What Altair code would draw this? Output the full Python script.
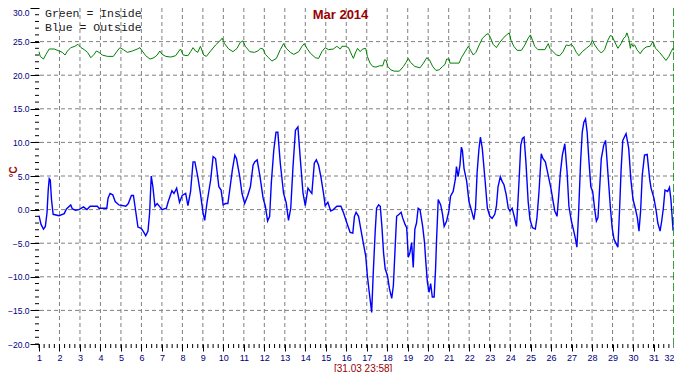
import altair as alt
import pandas as pd

# ---- data ----
blue_day = [1.00,1.10,1.22,1.31,1.39,1.45,1.50,1.55,1.61,1.69,1.98,2.23,2.34,2.55,2.63,2.79,2.95,3.17,3.34,3.50,3.85,3.93,4.31,4.37,4.47,4.60,4.72,4.90,5.24,5.36,5.51,5.61,5.70,5.83,5.99,6.12,6.21,6.32,6.40,6.48,6.56,6.66,6.77,6.90,7.01,7.22,7.31,7.49,7.59,7.72,7.86,7.99,8.16,8.27,8.40,8.52,8.61,8.75,8.88,9.01,9.09,9.20,9.38,9.50,9.62,9.78,9.89,9.99,10.10,10.22,10.31,10.44,10.56,10.64,10.80,10.91,11.04,11.19,11.32,11.45,11.53,11.65,11.78,11.94,12.05,12.16,12.26,12.34,12.46,12.57,12.66,12.78,12.94,13.07,13.18,13.29,13.40,13.52,13.64,13.76,13.89,14.00,14.13,14.24,14.32,14.44,14.54,14.65,14.76,14.89,14.97,15.10,15.24,15.37,15.54,15.74,15.87,16.03,16.19,16.32,16.40,16.48,16.60,16.71,16.84,16.95,17.03,17.11,17.19,17.24,17.32,17.41,17.48,17.58,17.66,17.74,17.82,17.90,18.01,18.11,18.22,18.30,18.39,18.46,18.58,18.68,18.75,18.87,18.95,19.03,19.11,19.19,19.27,19.35,19.43,19.51,19.60,19.73,19.82,19.88,19.96,20.04,20.12,20.20,20.29,20.36,20.41,20.49,20.61,20.70,20.78,20.90,21.01,21.09,21.22,21.33,21.38,21.46,21.55,21.62,21.67,21.75,21.88,21.99,22.12,22.23,22.31,22.39,22.48,22.55,22.64,22.77,22.89,23.01,23.12,23.25,23.33,23.41,23.52,23.61,23.70,23.81,23.91,23.99,24.10,24.20,24.31,24.36,24.44,24.52,24.60,24.68,24.77,24.88,24.97,25.09,25.23,25.31,25.41,25.52,25.60,25.72,25.86,25.99,26.10,26.18,26.29,26.37,26.45,26.55,26.67,26.78,26.87,26.99,27.07,27.18,27.26,27.34,27.44,27.52,27.60,27.68,27.76,27.84,27.94,28.03,28.13,28.21,28.29,28.37,28.45,28.57,28.66,28.77,28.89,28.98,29.07,29.18,29.26,29.34,29.42,29.50,29.58,29.66,29.79,29.89,30.00,30.11,30.21,30.29,30.37,30.45,30.56,30.69,30.81,30.88,31.02,31.13,31.21,31.32,31.40,31.48,31.56,31.69,31.78,31.85,31.95,31.99]
blue_temp = [-0.9,-2.2,-2.9,-2.5,-0.5,2.9,4.6,4.4,1.5,-0.7,-0.9,-0.6,0.1,0.7,0.1,-0.1,0.0,0.4,0.0,0.5,0.5,0.2,0.2,1.7,2.4,2.2,1.2,0.7,0.5,0.9,2.1,2.1,0.2,-2.6,-2.8,-3.4,-3.9,-3.2,-0.5,5.0,3.4,0.5,0.9,0.4,0.0,0.2,1.2,2.8,2.4,3.2,1.1,2.1,2.4,0.6,2.7,7.1,7.1,4.9,2.4,-0.5,-1.6,1.0,4.4,7.9,7.6,3.4,2.9,0.7,0.9,0.9,2.9,5.9,8.1,7.6,4.9,2.4,0.9,2.1,3.4,6.6,7.1,7.4,5.1,1.7,0.5,-1.7,-1.0,3.9,8.8,11.5,11.5,6.9,2.4,1.0,-1.6,0.2,6.4,11.8,12.3,7.4,2.4,0.6,3.2,2.7,2.4,6.9,7.4,6.6,4.9,2.4,0.6,1.1,-0.2,0.0,0.5,0.5,-0.5,-2.0,-3.4,-3.5,-1.0,-0.4,-1.0,-2.9,-5.1,-6.9,-9.8,-12.0,-14.0,-15.3,-9.3,-3.4,0.2,0.7,0.5,-2.5,-6.4,-8.8,-9.8,-11.8,-13.2,-11.3,-5.4,-1.0,-0.7,-0.4,-1.2,-2.2,-2.7,-7.1,-6.4,-4.9,-8.6,-2.9,-2.0,0.2,0.0,-2.5,-4.9,-7.6,-10.8,-12.3,-11.0,-13.0,-13.0,-8.8,-4.4,1.5,0.7,-0.7,-2.5,-1.7,-0.2,2.0,2.7,4.6,6.4,4.9,6.6,9.3,8.8,6.1,4.2,1.2,-0.2,-1.5,0.2,5.6,9.1,10.8,9.1,4.6,0.2,-1.0,-1.3,-0.7,0.5,3.4,4.9,4.2,3.7,2.2,0.2,-0.2,0.2,-1.0,-2.5,0.0,4.6,9.6,10.6,10.8,7.1,1.2,-1.5,-2.7,-2.9,-1.2,2.7,8.3,7.6,7.1,5.1,3.2,1.2,-0.2,-1.0,2.0,5.4,8.1,9.8,5.6,0.5,-1.7,-2.7,-4.2,-5.6,-0.7,7.1,11.5,13.0,13.5,11.5,7.6,3.4,2.7,0.0,-1.7,-1.2,3.2,7.6,9.6,10.3,5.6,0.5,-2.7,-4.4,-5.1,-5.6,-0.2,6.1,10.3,10.8,11.3,9.1,4.6,1.5,0.2,-1.2,-3.2,-0.2,5.1,8.1,8.2,4.6,3.2,1.7,-0.2,-2.0,-3.2,-1.7,0.2,2.9,2.7,3.3,1.5,-2.9,-2.7]

green_day = [1.00,1.06,1.22,1.34,1.50,1.74,1.98,2.14,2.27,2.39,2.55,2.75,2.90,3.05,3.21,3.37,3.53,3.69,3.80,3.93,4.09,4.34,4.63,4.82,4.95,5.12,5.31,5.56,5.80,5.93,6.04,6.21,6.42,6.61,6.77,6.90,7.01,7.19,7.43,7.67,7.83,7.91,8.04,8.27,8.40,8.52,8.64,8.75,8.88,9.04,9.17,9.38,9.62,9.83,9.94,10.06,10.26,10.47,10.67,10.83,10.96,11.07,11.29,11.52,11.68,11.81,11.94,12.05,12.21,12.37,12.59,12.78,12.94,13.07,13.27,13.44,13.68,13.84,13.95,14.08,14.24,14.49,14.65,14.81,14.97,15.13,15.37,15.54,15.71,15.79,15.95,16.11,16.27,16.35,16.44,16.55,16.68,16.80,16.95,17.03,17.16,17.29,17.45,17.62,17.78,17.87,17.95,18.03,18.17,18.34,18.59,18.79,18.92,19.03,19.14,19.35,19.60,19.77,19.93,20.06,20.22,20.38,20.54,20.70,20.82,20.90,21.03,21.06,21.51,21.62,21.76,21.88,21.96,22.07,22.20,22.33,22.49,22.65,22.82,22.93,23.04,23.17,23.33,23.50,23.66,23.82,23.96,24.04,24.18,24.34,24.55,24.72,24.88,24.99,25.09,25.20,25.36,25.70,25.86,25.94,26.10,26.26,26.42,26.58,26.74,26.87,26.99,27.10,27.23,27.36,27.52,27.72,27.92,28.01,28.13,28.29,28.45,28.61,28.77,28.89,28.98,29.10,29.26,29.42,29.54,29.63,29.70,29.79,29.87,29.91,30.00,30.08,30.19,30.35,30.48,30.64,30.84,30.97,31.10,31.29,31.45,31.61,31.75,31.86,31.95,31.98]
green_temp = [23.5,22.8,22.4,23.1,23.9,23.9,23.6,23.4,23.0,23.6,24.1,24.3,24.6,24.1,23.8,23.4,22.6,23.1,23.6,23.4,23.0,22.8,22.8,23.6,24.1,23.8,23.4,23.6,23.9,24.1,23.6,22.9,22.4,22.6,23.0,23.6,23.1,22.8,22.7,22.9,23.6,23.9,23.0,22.9,23.5,24.1,23.6,23.4,24.3,23.0,22.8,23.6,24.5,25.1,25.5,24.7,23.9,23.5,24.0,24.9,25.1,24.3,23.5,23.4,23.6,24.0,23.9,23.1,22.6,22.1,22.5,23.8,24.7,24.0,23.4,23.1,23.5,24.3,24.7,24.0,23.3,22.6,22.5,23.5,24.1,23.8,23.9,24.3,23.9,24.3,24.3,24.1,23.0,22.5,23.3,24.0,23.5,23.9,24.0,22.8,21.8,21.3,21.2,21.4,21.4,22.3,22.2,21.3,20.8,20.6,20.6,21.3,21.9,22.5,21.9,21.3,21.1,21.8,22.6,22.3,21.3,20.7,20.8,21.3,21.6,22.4,22.4,21.8,21.8,22.6,23.3,23.9,24.3,23.7,23.0,23.4,24.5,25.5,26.0,26.2,25.6,24.6,24.1,24.9,25.5,26.0,26.3,25.2,24.3,23.7,23.7,24.5,25.5,26.0,25.2,24.3,23.8,23.8,24.7,24.0,23.5,23.0,22.9,23.5,24.5,24.4,24.6,24.2,23.4,22.9,23.5,24.0,24.5,25.2,24.5,23.8,23.3,23.8,25.2,25.9,25.8,25.0,24.0,24.7,25.5,25.7,26.3,25.5,24.0,24.7,24.3,24.5,23.8,23.2,23.8,24.2,24.3,25.0,24.0,23.4,22.8,22.2,22.8,23.5,24.0,23.7]

day_labels = list(range(1, 33))
temp_labels = [-20, -15, -10, -5, 0, 5, 10, 15, 20, 25, 30]
grid_days = list(range(2, 32))
grid_temps = [-15, -10, -5, 0, 5, 10, 15, 20, 25]
minor_days = [1 + q / 4 for q in range(0, 125)]
minor_temps = list(range(-20, 31))
end_marker_day = [32.0]

title_text = "Mar 2014"
legend_line1 = "Green = Inside"
legend_line2 = "Blue = Outside"
unit_text = "°C"
stamp_text = "[31.03 23:58]"

W, H = 635, 336
NAVY = "#000080"
DARKRED = "#990000"

xs = alt.Scale(domain=[1, 32], nice=False, zero=False)
ys = alt.Scale(domain=[-20, 30], nice=False, zero=False)

xax = alt.Axis(values=day_labels, format="d", title=None, grid=False, domain=False,
               tickSize=7, tickColor="black", labelColor=NAVY, labelFont="Liberation Sans",
               labelFontSize=9, labelPadding=2, labelAngle=0, labelOverlap=False,
               labelFlush=False,
               labelAlign={"condition": {"test": "datum.value == 32", "value": "right"},
                           "value": "center"})
yax = alt.Axis(values=temp_labels, format=".1f", title=None, grid=False, domain=False,
               tickSize=9, tickColor="black", labelColor=NAVY, labelFont="Liberation Sans",
               labelFontSize=8.5, labelPadding=1, labelFlush=False,
               labelBaseline={"condition": {"test": "datum.value == 30", "value": "top"},
                              "value": "middle"})

X = lambda: alt.X("day:Q", scale=xs, axis=xax)
Y = lambda: alt.Y("temp:Q", scale=ys, axis=yax)

blue_df = pd.DataFrame({"day": blue_day, "temp": blue_temp})
green_df = pd.DataFrame({"day": green_day, "temp": green_temp})

vgrid = alt.Chart(pd.DataFrame({"day": grid_days})).mark_rule(
    color="#808080", strokeWidth=1, strokeDash=[4, 3]
).encode(x=X())
hgrid = alt.Chart(pd.DataFrame({"temp": grid_temps})).mark_rule(
    color="#808080", strokeWidth=1, strokeDash=[4, 3]
).encode(y=Y())

xminor = alt.Chart(pd.DataFrame({"day": minor_days})).mark_rule(
    color="black", strokeWidth=1
).encode(x=X(), y=alt.value(H), y2=alt.value(H + 4))
yminor = alt.Chart(pd.DataFrame({"temp": minor_temps})).mark_rule(
    color="black", strokeWidth=1
).encode(y=Y(), x=alt.value(-4), x2=alt.value(0))

green_line = alt.Chart(green_df).mark_line(color="#008000", strokeWidth=1).encode(
    x=X(), y=Y(), order="day:Q")
blue_line = alt.Chart(blue_df).mark_line(color="#0000FF", strokeWidth=1.4).encode(
    x=X(), y=Y(), order="day:Q")

marker = alt.Chart(pd.DataFrame({"day": end_marker_day})).mark_rule(
    color="#008000", strokeWidth=1.5, strokeDash=[8, 3]
).encode(x=X())


def label(txt, x, y, **kw):
    return alt.Chart(pd.DataFrame({"t": [txt]})).mark_text(**kw).encode(
        text="t:N", x=alt.value(x), y=alt.value(y))


title = label(title_text, 301.5, 10.5, font="Liberation Sans", fontSize=13,
              fontWeight="bold", color=DARKRED, align="center", baseline="alphabetic")
leg1 = label(legend_line1, 6, 9, font="Liberation Mono", fontSize=11.5,
             color="#1a1a1a", align="left", baseline="alphabetic")
leg2 = label(legend_line2, 6, 22.5, font="Liberation Mono", fontSize=11.5,
             color="#1a1a1a", align="left", baseline="alphabetic")
unit = label(unit_text, -25, 164, font="Liberation Sans", fontSize=10,
             fontWeight="bold", color=DARKRED, align="center", baseline="middle",
             angle=270)
stamp = label(stamp_text, 295, 363.5, font="Liberation Sans", fontSize=10,
              color=DARKRED, align="left", baseline="alphabetic")

chart = alt.layer(
    vgrid, hgrid, green_line, blue_line, marker, xminor, yminor,
    title, leg1, leg2, unit, stamp
).properties(
    width=W, height=H,
    autosize=alt.AutoSizeParams(type="none"),
    padding={"left": 31, "top": 0, "right": 0, "bottom": 28},
    background="white"
).configure_view(stroke=None)

chart.save("out.html", embed_options={"renderer": "svg", "actions": False})
